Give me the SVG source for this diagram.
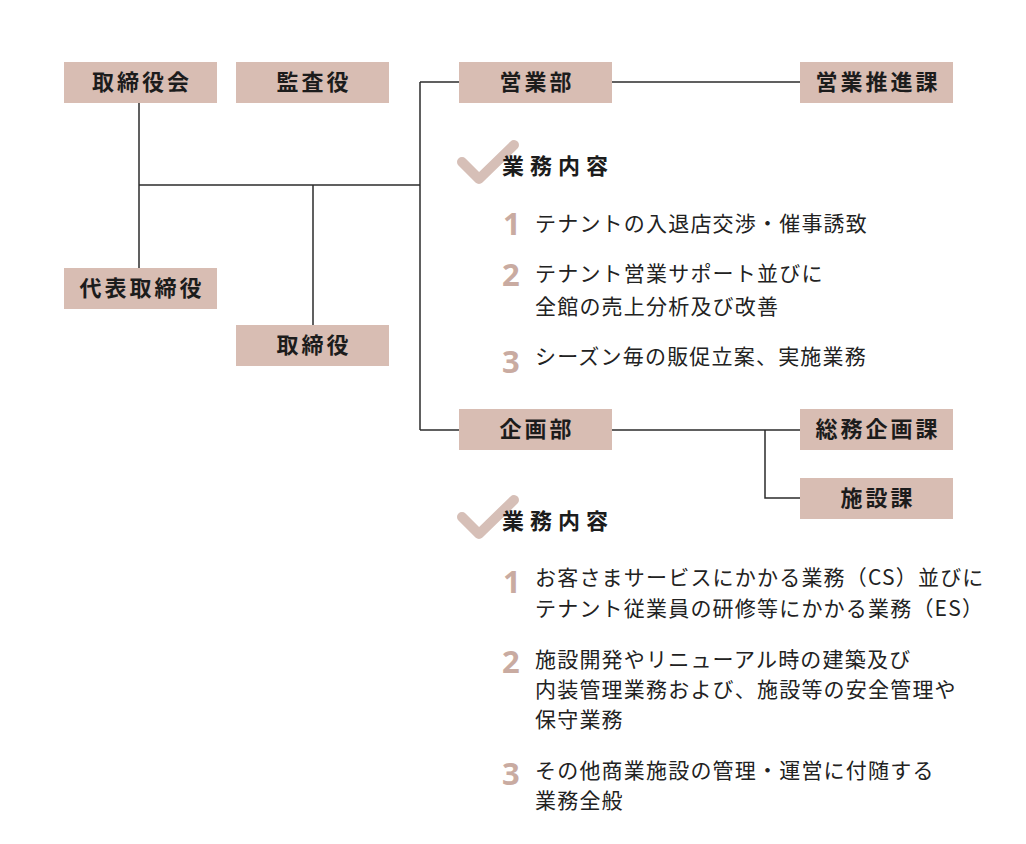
<svg xmlns="http://www.w3.org/2000/svg" width="1026" height="844" viewBox="0 0 1026 844">
<style>
.box{fill:#d8bdb3}
.lbl{font-family:"Noto Sans CJK JP","Noto Sans",sans-serif;font-size:22px;font-weight:700;fill:#1c1c1c;letter-spacing:3px;text-anchor:middle}
.ln{stroke:#2b2b2b;stroke-width:1.5;fill:none}
.chk{stroke:#d6bfb7;stroke-width:10;stroke-linecap:round;stroke-linejoin:round;fill:none}
.hd{font-family:"Noto Sans CJK JP","Noto Sans",sans-serif;font-size:22px;font-weight:700;fill:#1c1c1c;letter-spacing:6px}
.num{font-family:"Noto Sans","DejaVu Sans",sans-serif;font-size:31px;font-weight:700;fill:#c9aba1}
.tx{font-family:"Noto Sans CJK JP","Noto Sans",sans-serif;font-size:21px;fill:#222;letter-spacing:1.2px}
</style>
<rect width="1026" height="844" fill="#fff"/>
<g id="connectors">
<path class="ln" d="M139 103V268"/>
<path class="ln" d="M139 185H420"/>
<path class="ln" d="M313 185V325"/>
<path class="ln" d="M420 82V430"/>
<path class="ln" d="M420 82H459"/>
<path class="ln" d="M612 82H800"/>
<path class="ln" d="M420 430H459"/>
<path class="ln" d="M612 430H800"/>
<path class="ln" d="M765 430V498H800"/>
</g>
<g id="n-torishimariyakukai"><rect class="box" x="64" y="62" width="153" height="41"/><text class="lbl" x="142" y="90">取締役会</text></g>
<g id="n-kansayaku"><rect class="box" x="236" y="62" width="153" height="41"/><text class="lbl" x="314" y="90">監査役</text></g>
<g id="n-daihyo"><rect class="box" x="64" y="268" width="153" height="41"/><text class="lbl" x="142" y="296">代表取締役</text></g>
<g id="n-torishimariyaku"><rect class="box" x="236" y="325" width="153" height="41"/><text class="lbl" x="314" y="353">取締役</text></g>
<g id="n-eigyobu"><rect class="box" x="459" y="62" width="153" height="41"/><text class="lbl" x="537" y="90">営業部</text></g>
<g id="n-eigyosuishinka"><rect class="box" x="800" y="62" width="153" height="41"/><text class="lbl" x="878" y="90">営業推進課</text></g>
<g id="n-kikakubu"><rect class="box" x="459" y="409" width="153" height="41"/><text class="lbl" x="537" y="437">企画部</text></g>
<g id="n-somukikakuka"><rect class="box" x="800" y="409" width="153" height="41"/><text class="lbl" x="878" y="437">総務企画課</text></g>
<g id="n-shisetsuka"><rect class="box" x="800" y="478" width="153" height="41"/><text class="lbl" x="878" y="506">施設課</text></g>
<g id="duties-eigyo">
<path class="chk" d="M462 162L479 179L514 145"/>
<text class="hd" x="502" y="174">業務内容</text>
<text class="num" x="503" y="235">1</text>
<text class="tx" x="535" y="231">テナントの入退店交渉・催事誘致</text>
<text class="num" x="502" y="286">2</text>
<text class="tx" x="535" y="281">テナント営業サポート並びに</text>
<text class="tx" x="535" y="314">全館の売上分析及び改善</text>
<text class="num" x="502" y="373">3</text>
<text class="tx" x="535" y="364">シーズン毎の販促立案、実施業務</text>
</g>
<g id="duties-kikaku">
<path class="chk" d="M462 517L479 534L514 500"/>
<text class="hd" x="502" y="529">業務内容</text>
<text class="num" x="503" y="593">1</text>
<text class="tx" x="535" y="585">お客さまサービスにかかる業務（CS）並びに</text>
<text class="tx" x="535" y="616">テナント従業員の研修等にかかる業務（ES）</text>
<text class="num" x="502" y="673">2</text>
<text class="tx" x="535" y="667">施設開発やリニューアル時の建築及び</text>
<text class="tx" x="535" y="697">内装管理業務および、施設等の安全管理や</text>
<text class="tx" x="535" y="727">保守業務</text>
<text class="num" x="502" y="785">3</text>
<text class="tx" x="535" y="778">その他商業施設の管理・運営に付随する</text>
<text class="tx" x="535" y="808">業務全般</text>
</g>
</svg>
